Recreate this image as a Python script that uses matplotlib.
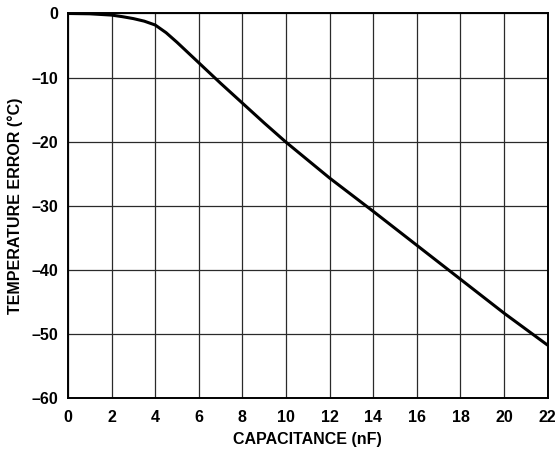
import matplotlib
matplotlib.use("Agg")
import matplotlib.pyplot as plt
from matplotlib.ticker import FuncFormatter, MultipleLocator

plt.rcParams['font.family'] = ['Liberation Sans', 'DejaVu Sans']
plt.rcParams['font.weight'] = 'bold'

# values
cap_nf = [0, 1, 2, 2.5, 3, 3.5, 4, 4.5, 5, 5.5, 6, 7, 8, 9, 10, 12, 14, 16, 18, 20, 22]
temp_err = [0, -0.05, -0.25, -0.5, -0.8, -1.2, -1.8, -3.0, -4.5, -6.1, -7.7, -10.9,
            -14.0, -17.1, -20.1, -25.7, -30.9, -36.2, -41.5, -46.8, -51.8]

fig = plt.figure(figsize=(5.55, 4.54), dpi=100)
ax = fig.add_axes([0.1225, 0.124, 0.8643, 0.8463])

ax.plot(cap_nf, temp_err, color='black', linewidth=2.2, solid_capstyle='butt', zorder=3)

ax.set_xlim(0, 22)
ax.set_ylim(-60, 0)
ax.xaxis.set_major_locator(MultipleLocator(2))
ax.yaxis.set_major_locator(MultipleLocator(10))


def dash_fmt(v, pos):
    v = int(round(v))
    return ('\u2013%d' % -v) if v < 0 else '%d' % v


ax.yaxis.set_major_formatter(FuncFormatter(dash_fmt))
ax.grid(True, color='#2a2a2a', linewidth=0.9)
ax.set_axisbelow(True)
for s in ax.spines.values():
    s.set_linewidth(1.4)
    s.set_color('black')

ax.tick_params(axis='x', length=0, labelsize=11.5, pad=9)
ax.tick_params(axis='y', length=0, labelsize=11.5, pad=7)
for lbl in ax.get_xticklabels() + ax.get_yticklabels():
    lbl.set_fontweight('bold')

ax.set_xlabel('CAPACITANCE (nF)', fontsize=11.5, fontweight='bold', labelpad=5)
ax.set_ylabel('TEMPERATURE ERROR (\u00b0C)', fontsize=11.5, fontweight='bold', labelpad=6)

fig.savefig('out.png', dpi=100)
